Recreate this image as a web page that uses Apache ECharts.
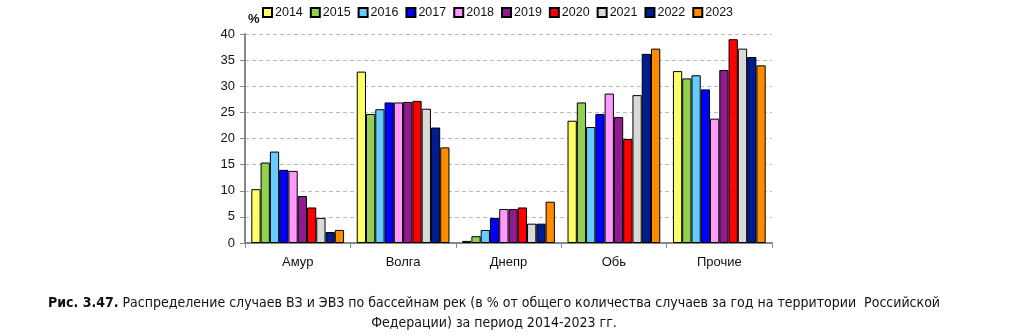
<!DOCTYPE html>
<html><head><meta charset="utf-8">
<script src="https://cdn.jsdelivr.net/npm/echarts@6/dist/echarts.min.js"></script>
<style>html,body{margin:0;padding:0;background:#fff}#c{width:1024px;height:336px}</style>
</head><body><div id="c"></div>
<script>
const categories = ['Амур', 'Волга', 'Днепр', 'Обь', 'Прочие'];
const years = ['2014','2015','2016','2017','2018','2019','2020','2021','2022','2023'];
const colors = ['#FFFF66','#92D050','#66CCFF','#0000FF','#FF99FF','#8E1C8E','#FF0000','#D9D9D9','#001C8E','#FF8C00'];
const v2014 = [10.3, 32.8, 0.4, 23.4, 32.9];
const v2015 = [15.4, 24.7, 1.3, 26.9, 31.5];
const v2016 = [17.5, 25.6, 2.5, 22.2, 32.1];
const v2017 = [14.0, 26.9, 4.8, 24.7, 29.4];
const v2018 = [13.8, 26.9, 6.5, 28.6, 23.8];
const v2019 = [9.0, 27.0, 6.5, 24.1, 33.1];
const v2020 = [6.8, 27.2, 6.8, 19.9, 39.0];
const v2021 = [4.8, 25.7, 3.7, 28.3, 37.2];
const v2022 = [2.1, 22.1, 3.7, 36.2, 35.6];
const v2023 = [2.5, 18.3, 7.9, 37.2, 34.0];
const yTicks = [0, 5, 10, 15, 20, 25, 30, 35, 40];
const seriesValues = [v2014,v2015,v2016,v2017,v2018,v2019,v2020,v2021,v2022,v2023];

const chart = echarts.init(document.getElementById('c'), null, {renderer:'canvas'});
chart.setOption({
  animation: false,
  textStyle: {fontFamily: 'Liberation Sans, Arial, sans-serif'},
  graphic: [{
    type: 'text', x: 494, y: 293,
    style: {
      text: '{b|Рис. 3.47.} Распределение случаев ВЗ и ЭВЗ по бассейнам рек (в % от общего количества случаев за год на территории  Российской\nФедерации) за период 2014-2023 гг.',
      textAlign: 'center', align: 'center',
      font: '14px "DejaVu Sans Condensed"', fill: '#111', lineHeight: 20,
      rich: {b: {font: 'bold 14px "DejaVu Sans Condensed"', fill: '#111', lineHeight: 20}}
    }
  }],
  legend: {
    top: 1, left: 257,
    itemWidth: 9, itemHeight: 9, itemGap: 7,
    icon: 'rect',
    textStyle: {fontSize: 12.5, color: '#111', padding: [0,0,0,-2]},
    data: years
  },
  grid: {left: 245, right: 252, top: 34, bottom: 93, containLabel: false},
  xAxis: {
    type: 'category', data: categories,
    axisLine: {lineStyle: {color: '#888', width: 2}},
    axisTick: {show: true, alignWithLabel: false, lineStyle: {color: '#888'}, length: 5},
    axisLabel: {fontSize: 13, color: '#111', margin: 13}
  },
  yAxis: {
    type: 'value', min: yTicks[0], max: yTicks[yTicks.length-1], interval: 5,
    name: '%', nameLocation: 'end', nameGap: 8,
    nameTextStyle: {fontSize: 13, fontWeight: 'bold', color: '#111', align: 'left', padding: [0, 0, 0, 3]},
    axisLine: {show: true, lineStyle: {color: '#888', width: 2}},
    axisTick: {show: true, length: 5, lineStyle: {color: '#888'}},
    axisLabel: {fontSize: 13, color: '#111', margin: 10},
    splitLine: {lineStyle: {color: '#bbb', type: [4, 3]}}
  },
  series: years.map((y, i) => ({
    name: y, type: 'bar', data: seriesValues[i],
    barGap: '0%', barCategoryGap: '12%',
    itemStyle: {color: colors[i], borderColor: '#000', borderWidth: 1}
  }))
});
</script></body></html>
